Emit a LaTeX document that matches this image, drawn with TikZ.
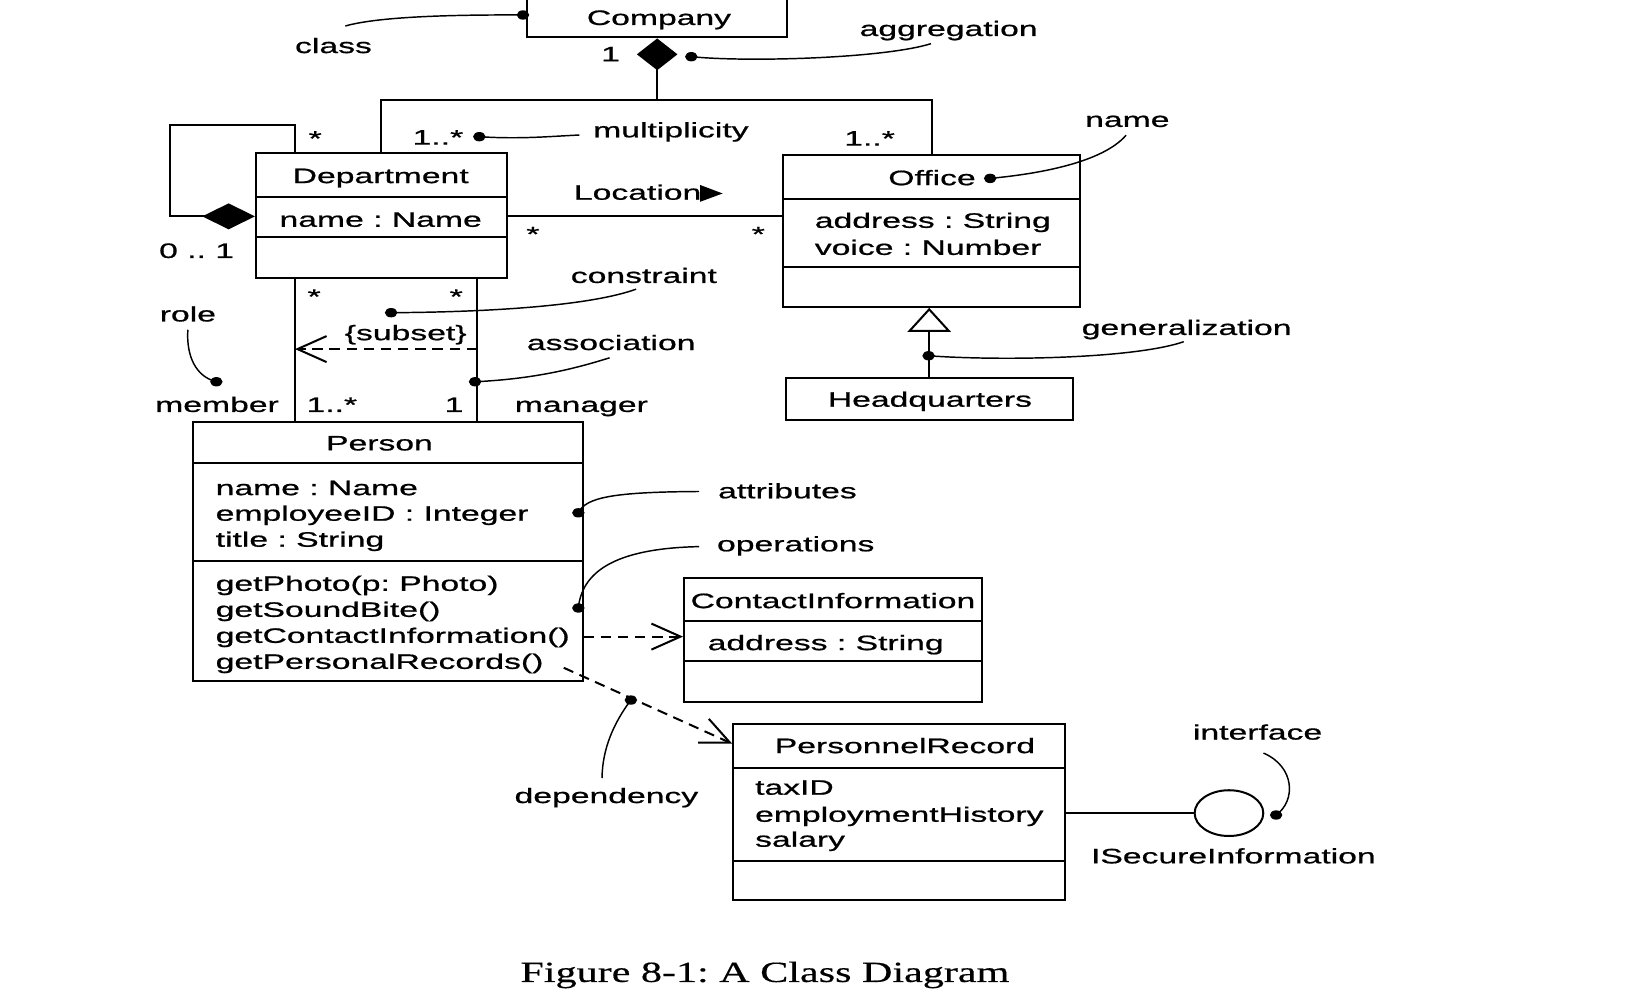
\documentclass[tikz,border=0pt]{standalone}
\usepackage{fontspec}
\setmainfont[FakeStretch=1.61, FakeBold=0.8]{Liberation Sans}
\newfontfamily\capfont[FakeStretch=1.44, FakeBold=0.4]{Liberation Serif}
\usetikzlibrary{arrows.meta,fit,shapes.geometric}
\frenchspacing
\begin{document}
\begin{tikzpicture}[x=0.2mm, y=-0.2mm, line width=1.1pt, font=\fontsize{11.45}{13}\selectfont,
	classbox/.style={draw, inner sep=0pt},
	txt/.style={inner sep=0pt, anchor=base},
	attr/.style={inner sep=0pt, anchor=base west},
	dot/.style={ellipse, fill, inner sep=0pt, minimum width=2.4mm, minimum height=1.8mm},
	note/.style={line width=0.8pt},
	depline/.style={dash pattern=on 2mm off 1.3mm, -{Straight Barb[length=5.6mm, width=5mm]}}]
	\useasboundingbox (0,0) rectangle (1568,952);

	\node[classbox, fit={(507,-10) (756.6,36)}] (company) {};
	\node[txt] (companyname) at (633.5,24) {Company};

	\node[classbox, fit={(246,147) (487,267)}] (dept) {};
	\draw (dept.west |- 0,189) -- (dept.east |- 0,189);
	\draw (dept.west |- 0,228) -- (dept.east |- 0,228);
	\node[txt] (deptname) at (366,176) {Department};
	\node[txt] (deptattr) at (366,218) {name : Name};

	\node[classbox, fit={(752.6,149) (1038.6,295)}] (office) {};
	\draw (office.west |- 0,191) -- (office.east |- 0,191);
	\draw (office.west |- 0,257) -- (office.east |- 0,257);
	\node[txt] (officename) at (896,178) {Office};
	\node[attr] (officeaddr) at (782.4,219) {address : String};
	\node[attr] (officevoice) at (782.4,245) {voice : Number};

	\node[classbox, fit={(755.3,363.5) (1031.3,404)}] (hq) {};
	\node[txt] (hqname) at (894,391) {Headquarters};

	\node[classbox, fit={(186,405.5) (560,655)}] (person) {};
	\draw (person.west |- 0,445.5) -- (person.east |- 0,445.5);
	\draw (person.west |- 0,539) -- (person.east |- 0,539);
	\node[txt] (personname) at (364.8,433) {Person};
	\node[attr] (pattr1) at (206.4,476) {name : Name};
	\node[attr] (pattr2) at (206.4,500.6) {employeeID : Integer};
	\node[attr] (pattr3) at (206.4,525.6) {title : String};
	\node[attr] (pop1) at (206.4,568) {getPhoto(p: Photo)};
	\node[attr] (pop2) at (206.4,593) {getSoundBite()};
	\node[attr] (pop3) at (206.4,618) {getContactInformation()};
	\node[attr] (pop4) at (206.4,643) {getPersonalRecords()};

	\node[classbox, fit={(657.6,555.5) (944,674.6)}] (contact) {};
	\draw (contact.west |- 0,597) -- (contact.east |- 0,597);
	\draw (contact.west |- 0,635.6) -- (contact.east |- 0,635.6);
	\node[txt] (contactname) at (800.8,584.6) {ContactInformation};
	\node[attr] (contactaddr) at (679.4,625) {address : String};

	\node[classbox, fit={(705,696) (1024.2,865)}] (record) {};
	\draw (record.west |- 0,738) -- (record.east |- 0,738);
	\draw (record.west |- 0,827.7) -- (record.east |- 0,827.7);
	\node[txt] (recordname) at (870,724) {PersonnelRecord};
	\node[attr] (rattr1) at (725,764) {taxID};
	\node[attr] (rattr2) at (725,790) {employmentHistory};
	\node[attr] (rattr3) at (725,814) {salary};

	\node[ellipse, draw, minimum width=13.2mm, minimum height=8.8mm, inner sep=0pt] (iface) at (1181.5,781.7) {};
	\node[txt] (ifacename) at (1185.7,830) {ISecureInformation};

	\draw[{Diamond[length=6.1mm, width=7.8mm]}-] (company.south) -- (company.south |- 0,96) coordinate (fork) -| (dept.north);
	\draw (fork) -| (office.north);
	\draw[{Diamond[length=10.1mm, width=5mm]}-] (dept.west |- 0,208) -- ++(-82,0) |- (283.6,120) -- (dept.north -| 283.6,0);
	\draw (dept.east |- 0,208) -- (office.west |- 0,208);
	\fill (673,177.8) -- (694.7,186) -- (673,194) -- cycle;
	\draw[-{Triangle[open, length=4.6mm, width=8.3mm]}] (hq.north) -- (hq.north |- office.south);
	\draw (dept.south -| 283.6,0) coordinate (memtop) -- (person.north -| 283.6,0);
	\draw (dept.south -| 458.7,0) coordinate (mgrtop) -- (person.north -| 458.7,0);
	\draw[depline] (mgrtop |- 0,335.6) -- (memtop |- 0,335.6);
	\draw[depline] (person.east |- 0,612) -- (contact.west |- 0,612);
	\draw[depline] ([shift={(-19,-14)}]person.south east) -- (record.west |- 0,715);
	\draw (record.east |- iface.center) -- (iface.west);

	\node[txt] (m1) at (587,59) {1};
	\node[txt] (m2) at (421,139) {1..*};
	\node[txt] (m3) at (836,140) {1..*};
	\node[txt] (m4) at (303,140) {*};
	\node[txt] (m5) at (189,248) {0 .. 1};
	\node[txt] (m6) at (512.3,232) {*};
	\node[txt] (m7) at (729,232) {*};
	\node[txt] (m8) at (302,292) {*};
	\node[txt] (m9) at (438.6,292) {*};
	\node[txt] (m10) at (319,396) {1..*};
	\node[txt] (m11) at (436.5,396) {1};
	\node[txt] (loc) at (613,192) {Location};
	\node[txt] (subset) at (390,327) {\{subset\}};
	\node[txt, anchor=base east] (member) at (269,396) {member};
	\node[txt, anchor=base west] (manager) at (494,396) {manager};

	\node[txt] (classlbl) at (320.6,51) {class};
	\node[txt] (agglbl) at (912,34.6) {aggregation};
	\node[txt] (multlbl) at (645,132) {multiplicity};
	\node[txt] (namelbl) at (1083.8,122) {name};
	\node[txt] (conslbl) at (619,272) {constraint};
	\node[txt] (rolelbl) at (180.6,309) {role};
	\node[txt] (assoclbl) at (587.6,336.5) {association};
	\node[txt] (genlbl) at (1140.8,322) {generalization};
	\node[txt] (attrlbl) at (757,479) {attributes};
	\node[txt] (opslbl) at (765,530) {operations};
	\node[txt] (deplbl) at (583,772) {dependency};
	\node[txt] (ifacelbl) at (1209,711) {interface};

	\node[dot] (classdot) at (502.8,14.4) {};
	\node[dot] (aggdot) at (664.6,54.5) {};
	\node[dot] (multdot) at (460.8,131.4) {};
	\node[dot] (namedot) at (951.9,171.5) {};
	\node[dot] (consdot) at (376,300.6) {};
	\node[dot] (roledot) at (208,367) {};
	\node[dot] (assocdot) at (456.7,367) {};
	\node[dot] (gendot) at (892.7,342) {};
	\node[dot] (attrdot) at (556,493) {};
	\node[dot] (opsdot) at (556,584.5) {};
	\node[dot] (depdot) at (606.5,673) {};
	\node[dot] (ifacedot) at (1226.8,783.5) {};

	\coordinate (classend) at (332,25);
	\coordinate (aggend) at (895,42);
	\coordinate (multend) at (557,129.8);
	\coordinate (nameend) at (1082.6,130);
	\coordinate (consend) at (611.5,278);
	\coordinate (roleend) at (180.6,317);
	\coordinate (assocend) at (586,344);
	\coordinate (genend) at (1138,328.5);
	\coordinate (attrend) at (672,472.5);
	\coordinate (opsend) at (672,525.5);
	\coordinate (depend) at (578.8,748);
	\coordinate (ifaceend) at (1214.7,724);

	\draw[note] (classend) .. controls (360,17) and (420,14) .. (classdot.center);
	\draw[note] (aggdot.center) .. controls (720,60) and (850,56) .. (aggend);
	\draw[note] (multdot.center) .. controls (500,134) and (530,131) .. (multend);
	\draw[note] (namedot.center) .. controls (1000,167) and (1060,156) .. (nameend);
	\draw[note] (consdot.center) .. controls (480,300) and (570,293) .. (consend);
	\draw[note] (roleend) .. controls (179,342) and (188,362) .. (roledot.center);
	\draw[note] (assocdot.center) .. controls (520,364) and (560,352) .. (assocend);
	\draw[note] (gendot.center) .. controls (960,347) and (1090,345) .. (genend);
	\draw[note] (attrdot.center) .. controls (563,478) and (590,473) .. (attrend);
	\draw[note] (opsdot.center) .. controls (560,545) and (600,527) .. (opsend);
	\draw[note] (depdot.center) .. controls (590,695) and (579,720) .. (depend);
	\draw[note] (ifaceend) .. controls (1245,737) and (1246,770) .. (ifacedot.center);

	\node[txt, font=\capfont\fontsize{16}{19}\selectfont] (caption) at (735.4,944) {Figure 8-1: A Class Diagram};
\end{tikzpicture}
\end{document}
